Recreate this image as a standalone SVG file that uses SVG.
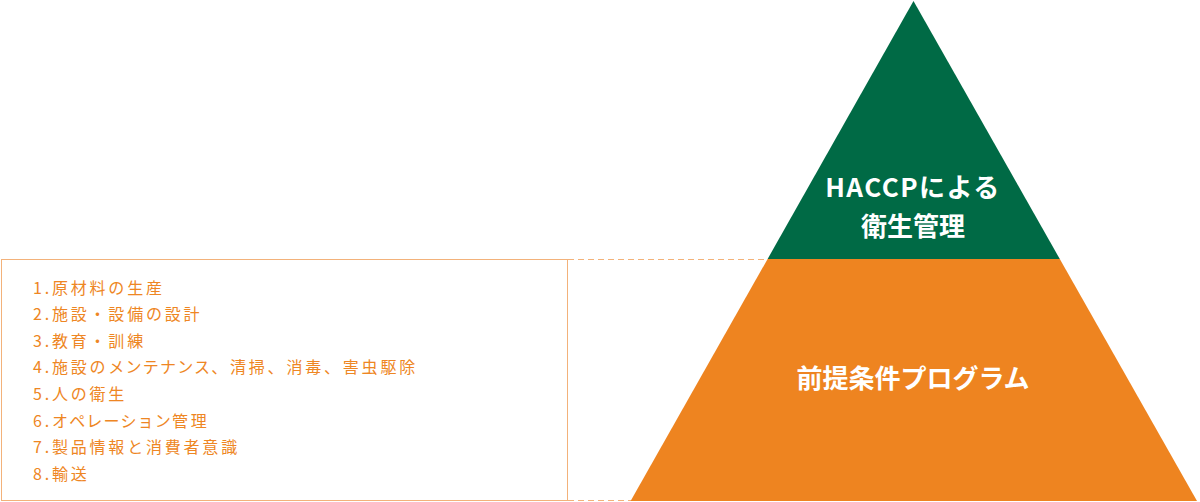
<svg xmlns="http://www.w3.org/2000/svg" width="1200" height="502" viewBox="0 0 1200 502">
<style>
.lst{font-family:"Noto Sans CJK JP","Liberation Sans",sans-serif;font-size:16px;letter-spacing:2.8px;fill:#EE8623}
.k{letter-spacing:1.2px}
.w{font-family:"Noto Sans CJK JP","Liberation Sans",sans-serif;font-size:26px;font-weight:bold;fill:#fff;text-anchor:middle}
.dash{stroke:#F3B27A;stroke-width:1;stroke-dasharray:6 4;fill:none}
</style>
<rect width="1200" height="502" fill="#fff"/>
<g id="connectors">
<line class="dash" x1="568" y1="259.5" x2="768" y2="259.5"/>
<line class="dash" x1="568" y1="500.5" x2="632" y2="500.5"/>
</g>
<g id="list">
<rect x="1.5" y="259.5" width="566" height="241" fill="#fff" stroke="#F3B27A" stroke-width="1"/>
<text class="lst" x="33" y="293.5">1.原材料の生産</text>
<text class="lst" x="33" y="320.1">2.施設・設備の設計</text>
<text class="lst" x="33" y="346.7">3.教育・訓練</text>
<text class="lst" x="33" y="373.3">4.施設の<tspan class="k">メンテナンス</tspan>、清掃、消毒、害虫駆除</text>
<text class="lst" x="33" y="399.9">5.人の衛生</text>
<text class="lst" x="33" y="426.5">6.<tspan class="k">オペレーション</tspan>管理</text>
<text class="lst" x="33" y="453.1">7.製品情報と消費者意識</text>
<text class="lst" x="33" y="479.7">8.輸送</text>
</g>
<g id="base">
<polygon points="767.6,259 1059.8,259 1197,501 630.6,501" fill="#EE8420"/>
<text class="w" x="913" y="388">前提条件プログラム</text>
</g>
<g id="top">
<polygon points="913.5,1 1059.8,259 767.6,259" fill="#006A45"/>
<text class="w" x="913" y="196.5" letter-spacing="1.5">HACCPによる</text>
<text class="w" x="913" y="236">衛生管理</text>
</g>
</svg>
